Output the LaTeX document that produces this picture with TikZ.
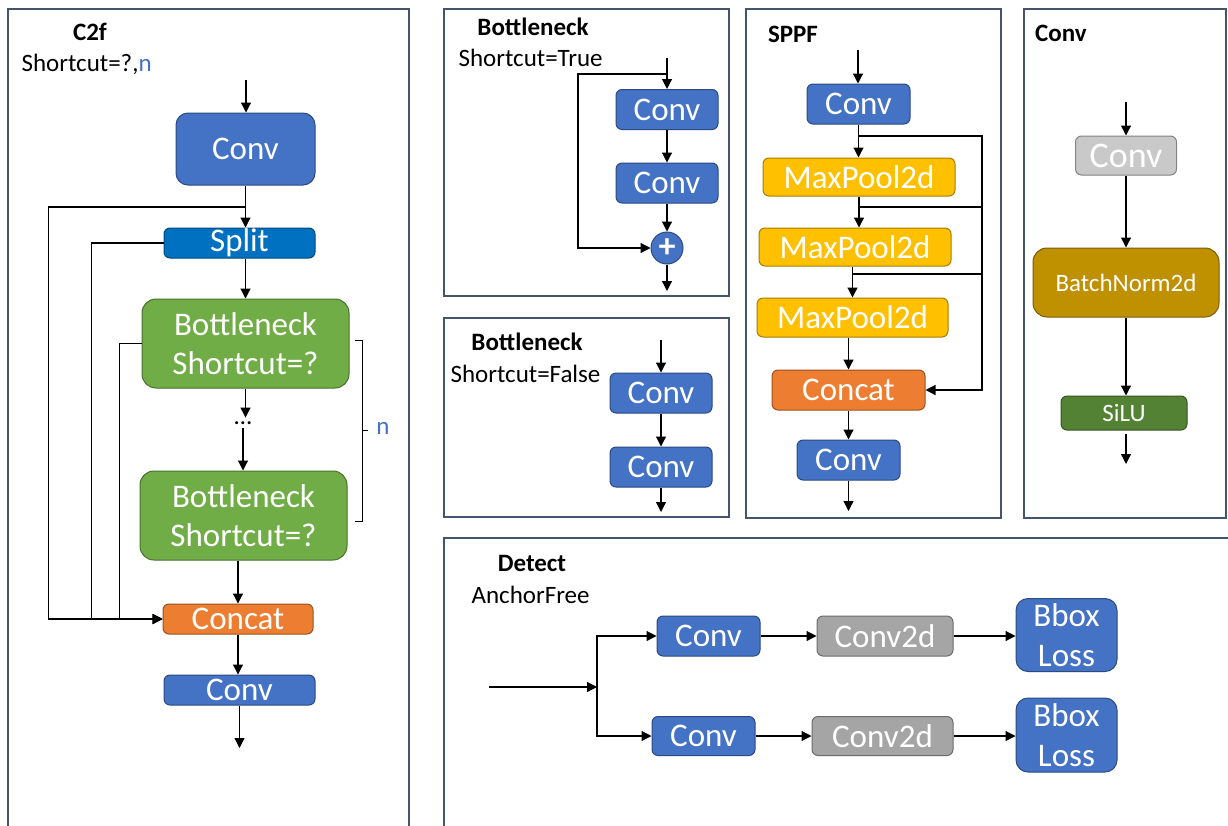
\documentclass[tikz,border=0pt]{standalone}
\usepackage{fontspec}
\setmainfont{Carlito}
\usepackage{tikz}
\usetikzlibrary{arrows.meta}
\usetikzlibrary{positioning}
\definecolor{convblue}{HTML}{4472C4}
\definecolor{splitblue}{HTML}{0070C0}
\definecolor{bneckgreen}{HTML}{70AD47}
\definecolor{concatorange}{HTML}{ED7D31}
\definecolor{poolyellow}{HTML}{FFC000}
\definecolor{convgray}{HTML}{A5A5A5}
\definecolor{lightgray}{HTML}{C9C9C9}
\definecolor{bngold}{HTML}{BF9000}
\definecolor{silugreen}{HTML}{548235}
\definecolor{framecol}{HTML}{44546A}
\definecolor{nblue}{HTML}{4472C4}
\newcommand{\boxfont}{\fontsize{33}{39}\selectfont}
\newcommand{\lblfont}{\fontsize{25}{30}\selectfont}
\tikzset{basic/.style={draw,rounded corners=6pt,inner sep=0pt,text=white,
                       line width=1pt,align=center,font=\boxfont}}
\tikzset{box/.style={basic,fill=#1,draw=#1!65!black}}
\tikzset{wh/.style 2 args={minimum width=#1pt,minimum height=#2pt}}
\tikzset{convbox/.style={box=convblue}}
\tikzset{splitbox/.style={box=splitblue}}
\tikzset{bneckbox/.style={box=bneckgreen,rounded corners=14pt}}
\tikzset{concatbox/.style={box=concatorange}}
\tikzset{poolbox/.style={box=poolyellow}}
\tikzset{c2dbox/.style={box=convgray}}
\tikzset{greybox/.style={box=lightgray,font=\fontsize{36}{40}\selectfont}}
\tikzset{bnbox/.style={box=bngold,rounded corners=14pt,font=\lblfont}}
\tikzset{silubox/.style={box=silugreen,font=\lblfont}}
\tikzset{lossbox/.style={box=convblue,rounded corners=12pt,font=\fontsize{33}{40}\selectfont}}
\tikzset{plusnode/.style={circle,fill=convblue,draw=convblue!65!black,line width=1pt,
                          minimum size=32pt,inner sep=0pt,text=white,font=\fontsize{34}{34}\selectfont\bfseries}}
\tikzset{panel/.style={draw=framecol,line width=1.3pt}}
\tikzset{title/.style={font=\lblfont\bfseries}}
\tikzset{note/.style={font=\lblfont,inner sep=0pt}}

\begin{document}
\begin{tikzpicture}[x=1pt,y=-1pt,line width=1.2pt,>={Triangle[length=10pt,width=10pt]}]
    \useasboundingbox (0,0) rectangle (1228,825);
    \clip (0,0) rectangle (1228,825);
    \fill[white] (0,0) rectangle (1228,825);
    % Draw panel frames
    \foreach \xa/\ya/\xb/\yb in {8/9/409/840, 444/9/729/296, 444/318/729/517,
                                 746/9/1001/518, 1024/9/1226/518, 444/538/1240/840}{%
        \draw[panel] (\xa,\ya) rectangle (\xb,\yb);
      }
    % ---- C2f ----
    \node[title] (c2f_title) at (90,32) {C2f};
    \node[note, anchor=west] (c2f_note) at (21,64) {Shortcut=?,\textcolor{nblue}{n}};
    \coordinate (c2f_in) at (246,80);
    \node[convbox, wh={139}{72}, rounded corners=12pt] (c2f_conv) at (245.5,149) {Conv};
    \node[splitbox, wh={151}{30}] (c2f_split) at (239.5,243) {Split};
    \node[bneckbox, wh={207}{89}] (c2f_b1) at (245.5,343.5) {Bottleneck\\Shortcut=?};
    \node[font=\lblfont] (c2f_dots) at (243,423) {\dots};
    \node[bneckbox, wh={207}{89}] (c2f_b2) at (243.5,515.5) {Bottleneck\\Shortcut=?};
    \node[concatbox, wh={150}{30}] (c2f_concat) at (238,619) {Concat};
    \node[convbox, wh={151}{30}] (c2f_conv2) at (239.5,690) {Conv};
    \coordinate (c2f_out) at (239.5,748);
    % Main flow
    \draw[->] (c2f_in) -- (c2f_in |- c2f_conv.north);
    \draw[->] (c2f_conv.south) -- (c2f_conv.south |- c2f_split.north);
    \draw[->] (c2f_b1.north |- c2f_split.south) -- (c2f_b1.north);
    \draw[->] (c2f_b1.south) -- (c2f_b1.south |- c2f_dots.north);
    \draw[->] (c2f_dots.south) -- (c2f_dots.south |- c2f_b2.north);
    \draw[->] (c2f_concat.north |- c2f_b2.south) -- (c2f_concat.north);
    \draw[->] (c2f_concat.south) -- (c2f_concat.south |- c2f_conv2.north);
    \draw[->] (c2f_conv2.south) -- (c2f_out);
    % Skip connections into Concat
    \coordinate (c2f_tap) at (245.5,207);
    \draw[->] (c2f_tap) -- ++(-197,0) |- (c2f_concat.west);
    \draw[->] (c2f_split.west) -- ++(-72,0) |- (c2f_concat.west);
    \draw[->] (c2f_b1.west) -- ++(-22,0) |- (c2f_concat.west);
    % Bracket for n repeats
    \draw[line width=1pt] (355,340) -- (362,340) -- (362,521) -- (355,521)
                          (362,430) -- (368,430);
    \node[note, text=nblue] (c2f_n) at (383,428) {n};
    % ---- Bottleneck, Shortcut=True ----
    \node[title] (bt_title) at (533,27) {Bottleneck};
    \node[note, anchor=west] (bt_note) at (458,58) {Shortcut=True};
    \coordinate (bt_in) at (667,58);
    \node[convbox, wh={102}{40}] (bt_conv1) at (667,109.5) {Conv};
    \node[convbox, wh={102}{40}] (bt_conv2) at (667,183) {Conv};
    \node[plusnode] (bt_plus) at (667,248) {+};
    \coordinate (bt_out) at (667,291);
    \draw[->] (bt_in) -- (bt_conv1);
    \draw[->] (bt_conv1) -- (bt_conv2);
    \draw[->] (bt_conv2) -- (bt_plus);
    \draw[->] (bt_plus) -- (bt_out);
    \coordinate (bt_tap) at (667,74);
    \draw[->] (bt_tap) -- ++(-89,0) |- (bt_plus.west);
    % ---- Bottleneck, Shortcut=False ----
    \node[title] (bf_title) at (527,342) {Bottleneck};
    \node[note, anchor=west] (bf_note) at (450,374) {Shortcut=False};
    \coordinate (bf_in) at (661,340);
    \node[convbox, wh={102}{40}] (bf_conv1) at (661,393) {Conv};
    \node[convbox, wh={102}{40}] (bf_conv2) at (661,467) {Conv};
    \coordinate (bf_out) at (661,512);
    \draw[->] (bf_in) -- (bf_conv1);
    \draw[->] (bf_conv1) -- (bf_conv2);
    \draw[->] (bf_conv2) -- (bf_out);
    % ---- SPPF ----
    \node[title] (sp_title) at (793,34) {SPPF};
    \coordinate (sp_in) at (858,50);
    \node[convbox, wh={103}{40}] (sp_conv1) at (858.5,104) {Conv};
    \node[poolbox, wh={192}{38}] (sp_pool1) at (859,177) {MaxPool2d};
    \node[poolbox, wh={192}{38}] (sp_pool2) at (855,247) {MaxPool2d};
    \node[poolbox, wh={191}{39}] (sp_pool3) at (852.5,317.5) {MaxPool2d};
    \node[concatbox, wh={153}{40}] (sp_concat) at (848.5,390) {Concat};
    \node[convbox, wh={103}{40}] (sp_conv2) at (848.5,460) {Conv};
    \coordinate (sp_out) at (848.5,511);
    \draw[->] (sp_in) -- (sp_in |- sp_conv1.north);
    \draw[->] (sp_conv1.south) -- (sp_conv1.south |- sp_pool1.north);
    \draw[->] (sp_pool1.south) -- (sp_pool1.south |- sp_pool2.north);
    \draw[->] (sp_pool3.north |- sp_pool2.south) -- (sp_pool3.north);
    \draw[->] (sp_concat.north |- sp_pool3.south) -- (sp_concat.north);
    \draw[->] (sp_concat) -- (sp_conv2);
    \draw[->] (sp_conv2) -- (sp_out);
    % Side branches into Concat
    \coordinate (sp_side) at (982,390);
    \coordinate (sp_tap1) at (858.5,136);
    \coordinate (sp_tap2) at (859,207);
    \coordinate (sp_tap3) at (852.5,274);
    \draw[->] (sp_tap1) -| (sp_side) -- (sp_concat.east);
    \draw (sp_tap2) -- (sp_tap2 -| sp_side);
    \draw (sp_tap3) -- (sp_tap3 -| sp_side);
    % ---- Conv ----
    \node[title] (cv_title) at (1061,33) {Conv};
    \coordinate (cv_in) at (1126,102);
    \node[greybox, wh={101}{39}] (cv_conv) at (1126,155.5) {Conv};
    \node[bnbox, wh={186}{69}] (cv_bn) at (1126,282.5) {BatchNorm2d};
    \node[silubox, wh={126}{34}] (cv_silu) at (1124,413) {SiLU};
    \coordinate (cv_out) at (1126,464);
    \draw[->] (cv_in) -- (cv_conv);
    \draw[->] (cv_conv) -- (cv_bn);
    \draw[->] (cv_bn.south) -- (cv_bn.south |- cv_silu.north);
    \draw[->] (cv_silu.south -| cv_out) ++(0,3) -- (cv_out);
    % ---- Detect ----
    \node[title] (dt_title) at (532,563) {Detect};
    \node[note, anchor=west] (dt_note) at (471,595) {AnchorFree};
    \coordinate (dt_in) at (489,687);
    \coordinate (dt_fork) at (597,687);
    \node[convbox, wh={103}{40}] (dt_conv1) at (708.5,636) {Conv};
    \node[c2dbox, wh={136}{40}] (dt_c2d1) at (885,636) {Conv2d};
    \node[lossbox, wh={101}{73}] (dt_loss1) at (1066.5,635) {Bbox\\Loss};
    \node[convbox, wh={103}{39}] (dt_conv2) at (703.5,736) {Conv};
    \node[c2dbox, wh={141}{39}] (dt_c2d2) at (882.5,736) {Conv2d};
    \node[lossbox, wh={101}{74}] (dt_loss2) at (1066.5,735) {Bbox\\Loss};
    \draw[->] (dt_in) -- (dt_fork);
    \draw[->] (dt_fork) |- (dt_conv1.west);
    \draw[->] (dt_fork) |- (dt_conv2.west);
    \foreach \i in {1,2}{%
          \draw[->] (dt_conv\i) -- (dt_c2d\i);
          \draw[->] (dt_c2d\i.east) -- (dt_c2d\i.east -| dt_loss\i.west);
        }
\end{tikzpicture}
\end{document}
